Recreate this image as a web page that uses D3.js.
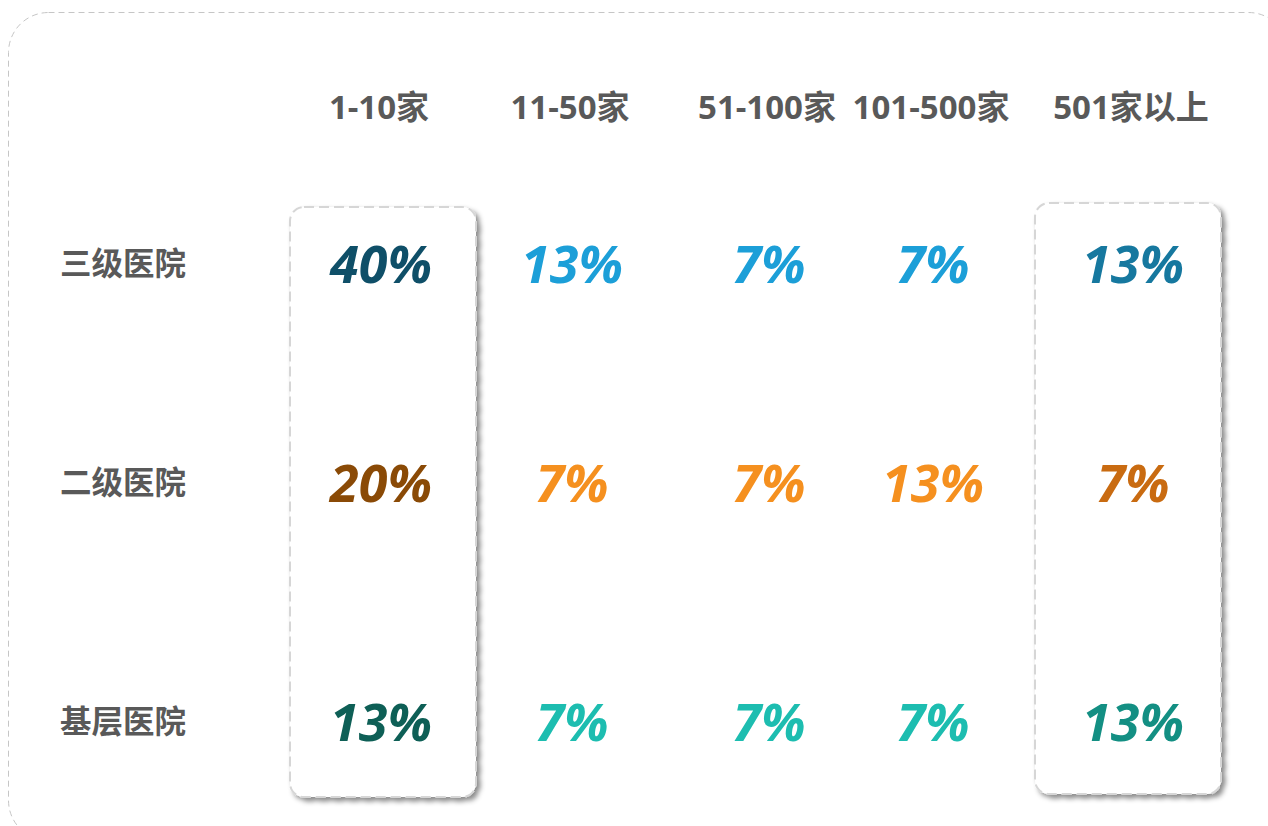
<!DOCTYPE html>
<html>
<head>
<meta charset="utf-8">
<script src="https://cdn.jsdelivr.net/npm/d3@7"></script>
<style>
  body { margin: 0; background: #fff; }
  svg { display: block; }
</style>
</head>
<body>
<div id="chart"></div>
<script>
// data
let columns = ["1-10家", "11-50家", "51-100家", "101-500家", "501家以上"];
let rows = ["三级医院", "二级医院", "基层医院"];
let tier3 = [40, 13, 7, 7, 13];
let tier2 = [20, 7, 7, 13, 7];
let tierBase = [13, 7, 7, 7, 13];
let highlighted = ["1-10家", "501家以上"];

// palette per row: first column, middle columns, last column
let palette = {
  "三级医院": { first: "#0f4f68", mid: "#1c9fd8", last: "#16789f" },
  "二级医院": { first: "#8a4a06", mid: "#f5901f", last: "#c96b11" },
  "基层医院": { first: "#0e5f56", mid: "#1dbdb0", last: "#138f83" }
};

let width = 1268,
height = 826;

let svg = d3.select("#chart")
  .append("svg")
  .attr("width", width)
  .attr("height", height);

let x = d3.scaleOrdinal()
  .domain(columns)
  .range([379, 570, 767, 931, 1131]);

let y = d3.scaleOrdinal()
  .domain(rows)
  .range([264, 483, 722]);

let defs = svg.append("defs");
let filter = defs.append("filter")
  .attr("id", "shadow")
  .attr("x", "-10%").attr("y", "-10%")
  .attr("width", "130%").attr("height", "130%");
filter.append("feDropShadow")
  .attr("dx", 3.5)
  .attr("dy", 3.5)
  .attr("stdDeviation", 2.4)
  .attr("flood-color", "#000")
  .attr("flood-opacity", 0.45);

// outer frame
svg.append("rect")
  .attr("x", 8.5)
  .attr("y", 12.5)
  .attr("width", 1280)
  .attr("height", 828)
  .attr("rx", 40)
  .attr("fill", "none")
  .attr("stroke", "#c6c6c6")
  .attr("stroke-width", 1)
  .attr("stroke-dasharray", "6 4");

// highlight boxes
let boxW = 186;
svg.append("g").selectAll("rect")
  .data(highlighted)
  .enter().append("rect")
  .attr("x", (d, i) => x(d) - boxW / 2 + (i == 0 ? 4 : -3))
  .attr("y", (d, i) => y(rows[0]) - (i == 0 ? 57 : 61))
  .attr("width", boxW)
  .attr("height", (d, i) => y(rows[2]) - y(rows[0]) + (i == 0 ? 132 : 133))
  .attr("rx", 14)
  .attr("fill", "#fff")
  .attr("stroke", "#d6d6d6")
  .attr("stroke-width", 2)
  .attr("stroke-dasharray", "10 5")
  .attr("filter", "url(#shadow)");

// column headers
svg.append("g").selectAll("text")
  .data(columns)
  .enter().append("text")
  .attr("x", d => x(d))
  .attr("y", 119)
  .attr("text-anchor", "middle")
  .attr("font-family", "'Open Sans', 'Noto Sans CJK SC', sans-serif")
  .attr("font-weight", 700)
  .attr("font-size", 33)
  .attr("fill", "#595959")
  .text(d => d);

// row labels
svg.append("g").selectAll("text")
  .data(rows)
  .enter().append("text")
  .attr("x", 60)
  .attr("y", d => y(d))
  .attr("dy", "0.36em")
  .attr("font-family", "'Noto Sans CJK SC', sans-serif")
  .attr("font-weight", 700)
  .attr("font-size", 31.5)
  .attr("fill", "#595959")
  .text(d => d);

// cells
let table = [tier3, tier2, tierBase];
let cells = [];
rows.forEach((r, i) => {
  columns.forEach((c, j) => {
    cells.push({ row: r, col: c, value: table[i][j], j: j });
  });
});

svg.append("g").selectAll("text")
  .data(cells)
  .enter().append("text")
  .attr("x", d => x(d.col) + 2)
  .attr("y", d => y(d.row))
  .attr("dy", "0.36em")
  .attr("text-anchor", "middle")
  .attr("font-family", "'Open Sans', 'DejaVu Sans', sans-serif")
  .attr("font-weight", 700)
  .attr("font-style", "italic")
  .attr("font-size", 52)
  .attr("fill", d => {
    let p = palette[d.row];
    if (d.j == 0) return p.first;
    if (d.j == columns.length - 1) return p.last;
    return p.mid;
  })
  .text(d => d.value + "%");
</script>
</body>
</html>
